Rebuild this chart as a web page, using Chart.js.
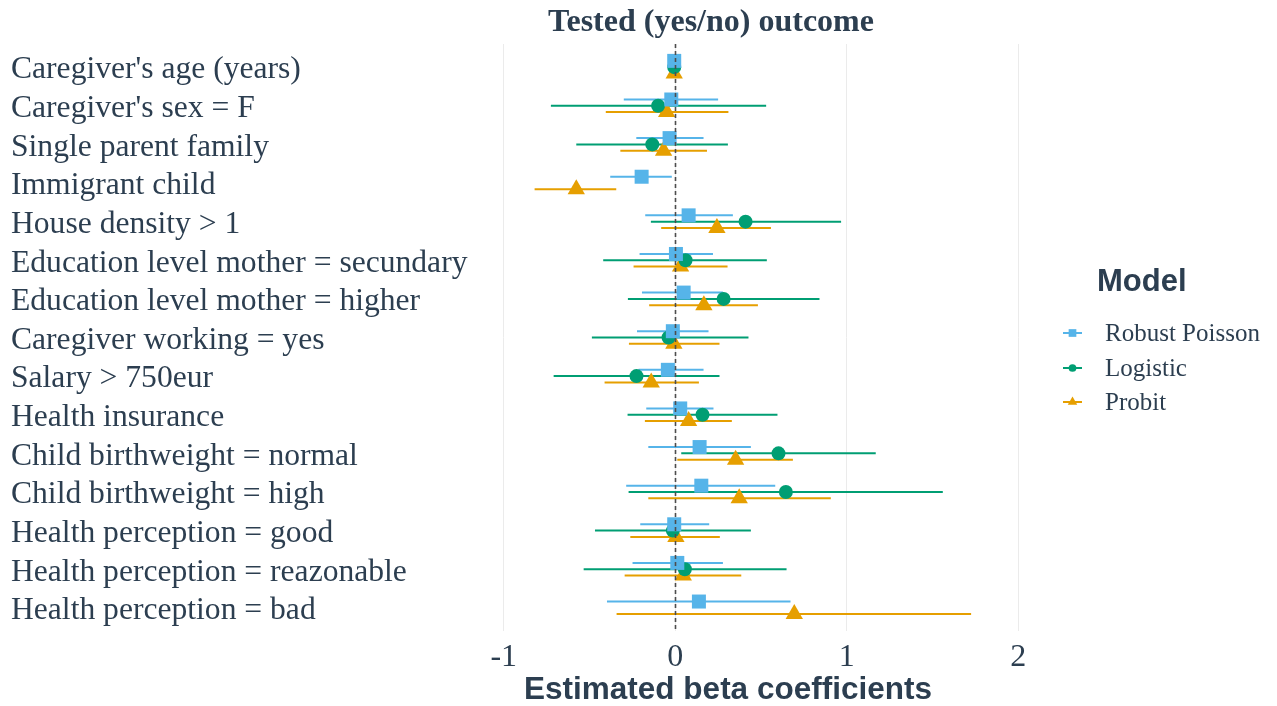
<!DOCTYPE html>
<html>
<head>
<meta charset="utf-8">
<script src="https://cdn.jsdelivr.net/npm/chart.js@4.4.1/dist/chart.umd.min.js"></script>
<style>
  html, body { margin: 0; padding: 0; background: #ffffff; }
  #wrap { width: 1277px; height: 706px; position: relative; }
</style>
</head>
<body>
<div id="wrap"><canvas id="c"></canvas></div>
<script>
// Covariates, top to bottom
const categories = [
  "Caregiver's age (years)",
  "Caregiver's sex = F",
  "Single parent family",
  "Immigrant child",
  "House density > 1",
  "Education level mother = secundary",
  "Education level mother = higher",
  "Caregiver working = yes",
  "Salary > 750eur",
  "Health insurance",
  "Child birthweight = normal",
  "Child birthweight = high",
  "Health perception = good",
  "Health perception = reazonable",
  "Health perception = bad"
];

// Robust Poisson: estimate and 95% CI
const poissonEst = [-0.006, -0.023, -0.033, -0.196, 0.078, 0.004, 0.049, -0.014, -0.043, 0.029, 0.142, 0.152, -0.006, 0.012, 0.138];
const poissonLo  = [-0.014, -0.300, -0.227, -0.379, -0.175, -0.208, -0.194, -0.223, -0.214, -0.169, -0.157, -0.286, -0.204, -0.249, -0.398];
const poissonHi  = [0.002, 0.250, 0.165, -0.020, 0.336, 0.220, 0.278, 0.194, 0.165, 0.223, 0.441, 0.583, 0.198, 0.278, 0.672];

// Logistic (no estimate shown for immigrant child and bad health perception)
const logisticEst = [-0.006, -0.100, -0.134, null, 0.410, 0.060, 0.282, -0.039, -0.226, 0.159, 0.602, 0.645, -0.014, 0.056, null];
const logisticLo  = [-0.014, -0.725, -0.577, null, -0.142, -0.420, -0.276, -0.486, -0.709, -0.278, 0.035, -0.272, -0.468, -0.534, null];
const logisticHi  = [0.002, 0.530, 0.307, null, 0.967, 0.534, 0.841, 0.427, 0.258, 0.596, 1.169, 1.560, 0.441, 0.649, null];

// Probit
const probitEst = [-0.006, -0.050, -0.068, -0.577, 0.243, 0.031, 0.167, -0.008, -0.140, 0.078, 0.352, 0.373, 0.004, 0.047, 0.694];
const probitLo  = [-0.014, -0.405, -0.320, -0.820, -0.082, -0.243, -0.152, -0.270, -0.412, -0.177, 0.012, -0.157, -0.262, -0.295, -0.342];
const probitHi  = [0.002, 0.310, 0.185, -0.344, 0.558, 0.305, 0.482, 0.258, 0.138, 0.330, 0.686, 0.907, 0.260, 0.385, 1.725];

const xTicks = [-1, 0, 1, 2];
const modelNames = ["Robust Poisson", "Logistic", "Probit"];

const TEXT = '#2c3e50';
const SERIF = '"Liberation Serif", "Times New Roman", serif';
const SANS = '"Liberation Sans", Arial, sans-serif';

const models = [
  { name: modelNames[0], est: poissonEst, lo: poissonLo, hi: poissonHi, color: '#56B4E9', shape: 'rect', radius: 9.9, dodge: -0.163 },
  { name: modelNames[1], est: logisticEst, lo: logisticLo, hi: logisticHi, color: '#009E73', shape: 'circle', radius: 7, dodge: 0 },
  { name: modelNames[2], est: probitEst, lo: probitLo, hi: probitHi, color: '#E69F00', shape: 'triangle', radius: 10, dodge: 0.163 }
];

const datasets = models.map(m => ({
  label: m.name,
  data: m.est
    .map((v, i) => ({ x: v, y: i + m.dodge }))
    .filter(p => p.x !== null),
  pointStyle: m.shape,
  pointRadius: m.radius,
  pointHoverRadius: m.radius,
  backgroundColor: m.color,
  borderColor: m.color,
  borderWidth: 0,
  showLine: false
}));

// Confidence intervals under the markers, zero line, titles and legend on top
const ciPlugin = {
  id: 'ci',
  beforeDatasetsDraw(chart) {
    const { ctx, scales: { x, y } } = chart;
    ctx.save();
    ctx.lineWidth = 2;
    models.forEach(m => {
      ctx.strokeStyle = m.color;
      m.lo.forEach((lo, i) => {
        if (lo === null) return;
        const py = y.getPixelForValue(i + m.dodge);
        ctx.beginPath();
        ctx.moveTo(x.getPixelForValue(lo), py);
        ctx.lineTo(x.getPixelForValue(m.hi[i]), py);
        ctx.stroke();
      });
    });
    ctx.restore();
  },
  afterDatasetsDraw(chart) {
    const { ctx, chartArea, scales: { x } } = chart;
    const px = Math.round(x.getPixelForValue(0)) + 0.5;
    ctx.save();
    ctx.strokeStyle = '#4d4d4d';
    ctx.lineWidth = 1.6;
    ctx.setLineDash([4, 3]);
    ctx.beginPath();
    ctx.moveTo(px, chartArea.top);
    ctx.lineTo(px, chartArea.bottom);
    ctx.stroke();
    ctx.restore();
  },
  afterDraw(chart) {
    const { ctx } = chart;
    ctx.save();
    ctx.fillStyle = TEXT;
    ctx.textBaseline = 'middle';
    ctx.textAlign = 'center';
    ctx.font = 'bold 32px ' + SERIF;
    ctx.fillText('Tested (yes/no) outcome', 711, 23);

    ctx.font = 'bold 31.5px ' + SANS;
    ctx.fillText('Estimated beta coefficients', 728, 690);

    ctx.font = 'bold 31px ' + SANS;
    ctx.textAlign = 'left';
    ctx.fillText('Model', 1097, 282);
    ctx.font = '25px ' + SERIF;
    const rows = [333, 368, 402];
    models.forEach((m, k) => {
      const cy = rows[k];
      ctx.strokeStyle = m.color;
      ctx.fillStyle = m.color;
      ctx.lineWidth = 2;
      ctx.beginPath();
      ctx.moveTo(1063, cy);
      ctx.lineTo(1082, cy);
      ctx.stroke();
      Chart.helpers.drawPoint(ctx, { pointStyle: m.shape, radius: m.radius * 0.55, borderWidth: 0 }, 1072.5, cy);
      ctx.fillStyle = TEXT;
      ctx.fillText(m.name, 1105, cy + 1);
    });
    ctx.restore();
  }
};

new Chart(document.getElementById('c'), {
  type: 'scatter',
  data: { datasets },
  plugins: [ciPlugin],
  options: {
    responsive: true,
    maintainAspectRatio: false,
    animation: false,
    events: [],
    layout: { padding: { left: 11, top: 44, right: 233, bottom: 0 } },
    plugins: { legend: { display: false }, tooltip: { enabled: false }, title: { display: false } },
    scales: {
      x: {
        type: 'linear',
        min: -1.15,
        max: 2.15,
        afterBuildTicks: s => { s.ticks = xTicks.map(v => ({ value: v })); },
        afterFit: s => { s.height = 75; },
        grid: { color: '#ebebeb', lineWidth: 1, drawTicks: false },
        border: { display: false },
        ticks: {
          color: TEXT,
          font: { family: SERIF, size: 32 },
          padding: 7,
          callback: v => String(v)
        },
        title: { display: false }
      },
      y: {
        type: 'linear',
        reverse: true,
        min: -0.6,
        max: 14.6,
        afterBuildTicks: s => { s.ticks = categories.map((_, i) => ({ value: i })); },
        afterFit: s => { s.width = 467; },
        grid: { display: false },
        border: { display: false },
        ticks: {
          color: TEXT,
          crossAlign: 'far',
          labelOffset: 3,
          font: { family: SERIF, size: 31.6 },
          autoSkip: false,
          callback: v => categories[v]
        }
      }
    }
  }
});
</script>
</body>
</html>
